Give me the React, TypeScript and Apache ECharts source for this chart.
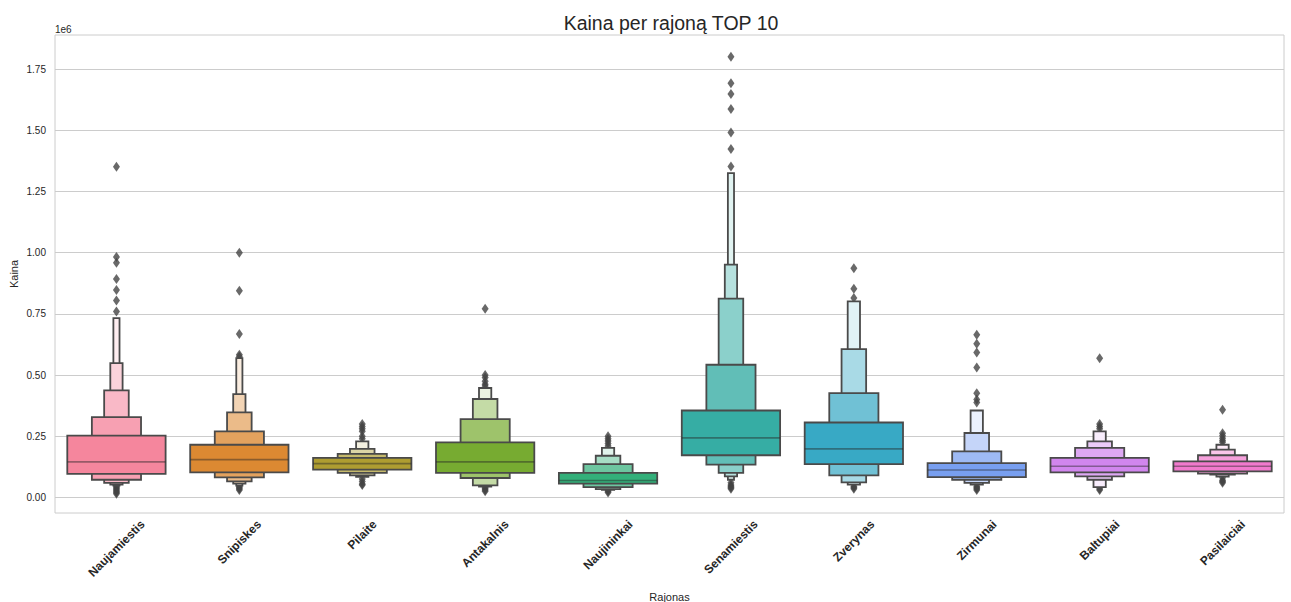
import React, { useEffect, useRef } from 'react';
import * as echarts from 'echarts';

const categories = ['Naujamiestis', 'Snipiskes', 'Pilaite', 'Antakalnis', 'Naujininkai', 'Senamiestis', 'Zverynas', 'Zirmunai', 'Baltupiai', 'Pasilaiciai'];

const palette = ['#f5869d', '#dc8932', '#ae9d31', '#77ab31', '#33b07a', '#36ada4', '#38a9c5', '#789ff0', '#d186ee', '#f17acd'];

const medians = [145000, 154000, 138000, 145000, 69000, 243000, 198000, 112000, 127000, 127000];

// letter-value boxes [low, high], widest (quartiles) first
const letterValues = [
  [[96000, 252000], [72000, 328000], [59000, 437000], [52000, 549000], [48000, 733000]],
  [[102000, 215000], [82000, 270000], [65000, 347000], [56000, 422000], [48000, 569000]],
  [[113000, 161000], [100000, 178000], [90000, 198000], [84000, 229000]],
  [[100000, 225000], [79000, 320000], [49000, 402000], [44000, 447000]],
  [[56000, 100000], [42000, 136000], [34000, 170000], [31000, 202000]],
  [[172000, 355000], [134000, 542000], [100000, 812000], [86000, 951000], [72000, 1325000]],
  [[136000, 306000], [90000, 426000], [61000, 606000], [52000, 801000]],
  [[83000, 140000], [72000, 188000], [59000, 263000], [52000, 355000]],
  [[102000, 161000], [86000, 202000], [72000, 229000], [42000, 270000]],
  [[106000, 147000], [97000, 172000], [93000, 195000], [85000, 215000]],
];

const outliers = [
  [1351000, 983000, 959000, 893000, 848000, 805000, 760000, 45000, 40000, 35000, 30000, 25000, 20000, 15000],
  [1000000, 845000, 668000, 583000, 575000, 45000, 40000, 35000, 30000],
  [300000, 290000, 280000, 270000, 250000, 240000, 75000, 65000, 55000, 50000],
  [771000, 500000, 490000, 475000, 462000, 455000, 40000, 35000, 30000, 25000],
  [250000, 240000, 230000, 220000, 210000, 30000, 25000, 20000],
  [1801000, 1693000, 1649000, 1588000, 1491000, 1424000, 1352000, 60000, 50000, 45000, 40000, 35000],
  [937000, 853000, 815000, 45000, 40000, 35000],
  [665000, 628000, 592000, 531000, 426000, 400000, 388000, 45000, 40000, 35000, 30000],
  [569000, 300000, 290000, 280000, 35000, 30000],
  [358000, 262000, 252000, 242000, 232000, 225000, 80000, 70000, 65000, 60000],
];

const yTicks = [0, 250000, 500000, 750000, 1000000, 1250000, 1500000, 1750000];

const FONT = '"Liberation Sans", Arial, sans-serif';
const TEXT = '#262626';
const EDGE = '#4a4a4a';

function mixWhite(hex: string, t: number) {
  const r = parseInt(hex.slice(1, 3), 16);
  const g = parseInt(hex.slice(3, 5), 16);
  const b = parseInt(hex.slice(5, 7), 16);
  const m = (c: number) => Math.round(c + (255 - c) * t);
  return `rgb(${m(r)},${m(g)},${m(b)})`;
}

let measureCtx: CanvasRenderingContext2D | null = null;
function textWidth(text: string, font: string) {
  if (!measureCtx) measureCtx = document.createElement('canvas').getContext('2d');
  if (!measureCtx) return text.length * 7;
  measureCtx.font = font;
  return measureCtx.measureText(text).width;
}

export default function App() {
  const ref = useRef<HTMLDivElement>(null);
  useEffect(() => {
    document.body.style.margin = '0';
    if (!ref.current) return;
    const chart = echarts.init(ref.current, null, { renderer: 'svg' });
    const labelSize = 12;
    const labelFont = `bold ${labelSize}px ${FONT}`;
    const outlierData: number[][] = [];
    outliers.forEach((arr, i) => arr.forEach((v) => outlierData.push([i, v])));

    chart.setOption({
      animation: false,
      backgroundColor: '#ffffff',
      title: {
        text: 'Kaina per rajoną TOP 10',
        left: 666,
        top: 8,
        textAlign: 'center',
        textStyle: { fontFamily: FONT, fontSize: 19.5, fontWeight: 'normal', color: TEXT },
      },
      graphic: [
        { type: 'text', left: 55, top: 24, style: { text: '1e6', font: `10px ${FONT}`, fill: TEXT } },
      ],
      grid: {
        left: 55, right: 7, top: 35, bottom: 89,
        show: true, borderColor: '#cccccc', borderWidth: 1,
        containLabel: false,
        outerBoundsMode: 'none',
      },
      xAxis: {
        type: 'category',
        data: categories,
        boundaryGap: true,
        axisLine: { show: false },
        axisTick: { show: false },
        axisLabel: { show: false },
        splitLine: { show: false },
        name: 'Rajonas',
        nameLocation: 'middle',
        nameGap: 78,
        nameMoveOverlap: false,
        nameTextStyle: { fontFamily: FONT, fontSize: 11, color: TEXT },
      },
      yAxis: {
        type: 'value',
        min: -64000,
        max: 1890000,
        axisLine: { show: false },
        axisTick: { show: false, customValues: yTicks },
        axisLabel: {
          customValues: yTicks,
          formatter: (v: number) => (v / 1e6).toFixed(2),
          fontFamily: FONT,
          fontSize: 10,
          color: TEXT,
          margin: 9,
        },
        splitLine: { show: true, lineStyle: { color: '#cccccc', width: 1 } },
        name: 'Kaina',
        nameLocation: 'middle',
        nameGap: 36,
        nameMoveOverlap: false,
        nameTextStyle: { fontFamily: FONT, fontSize: 11, color: TEXT },
      },
      series: [
        {
          type: 'scatter',
          z: 2,
          data: outlierData,
          symbol: 'path://M0,-5L3,0L0,5L-3,0Z',
          symbolSize: [7, 10],
          itemStyle: { color: '#444444' },
          silent: true,
        },
        {
          type: 'custom',
          z: 3,
          data: categories.map((c, i) => [i, medians[i]]),
          encode: { x: 0, y: 1 },
          renderItem: (params: any, api: any) => {
            const i = params.dataIndex;
            const lv = letterValues[i];
            const n = lv.length;
            const cx = api.coord([i, 0])[0];
            const band = api.size([1, 0])[0];
            const w0 = band * 0.8;
            const children: any[] = [];
            for (let L = n - 1; L >= 0; L--) {
              const [lo, hi] = lv[L];
              const pTop = api.coord([i, hi]);
              const pBot = api.coord([i, lo]);
              const w = w0 / Math.pow(2, L);
              const mix = n > 1 ? (0.85 * L) / (n - 1) : 0;
              children.push({
                type: 'rect',
                shape: { x: cx - w / 2, y: pTop[1], width: w, height: pBot[1] - pTop[1] },
                style: { fill: mixWhite(palette[i], mix), stroke: EDGE, lineWidth: 1.8 },
              });
            }
            const my = api.coord([i, medians[i]])[1];
            children.push({
              type: 'line',
              shape: { x1: cx - w0 / 2, y1: my, x2: cx + w0 / 2, y2: my },
              style: { stroke: 'rgba(38,38,38,0.45)', lineWidth: 1.6 },
            });
            return { type: 'group', children };
          },
        },
        {
          type: 'custom',
          z: 5,
          silent: true,
          clip: false,
          data: categories.map((c, i) => [i, 0]),
          encode: { x: 0, y: 1 },
          renderItem: (params: any, api: any) => {
            const i = params.dataIndex;
            const cx = api.coord([i, 0])[0];
            const bottom = params.coordSys.y + params.coordSys.height;
            const w = textWidth(categories[i], labelFont);
            const half = ((w + labelSize) * Math.SQRT1_2) / 2;
            return {
              type: 'text',
              x: cx,
              y: bottom + 5 + half,
              rotation: Math.PI / 4,
              style: {
                text: categories[i],
                font: labelFont,
                fill: TEXT,
                align: 'center',
                verticalAlign: 'middle',
              },
            };
          },
        },
      ],
    });
    return () => chart.dispose();
  }, []);
  return <div ref={ref} style={{ width: 1291, height: 602 }} />;
}
